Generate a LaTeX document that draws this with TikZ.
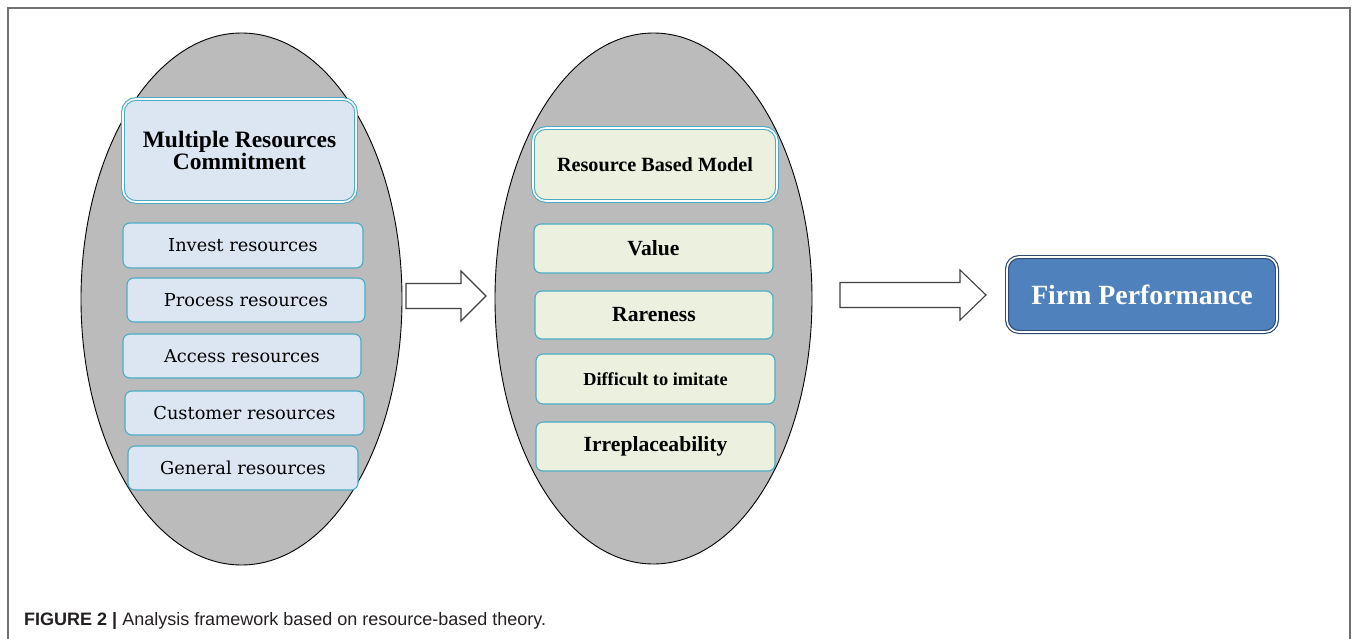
\documentclass[tikz,border=0pt]{standalone}
\usepackage{fontspec}
\setmainfont{Liberation Serif}
\newfontfamily\dvs{DejaVu Serif}
\newfontfamily\capfont{Liberation Sans}
\usetikzlibrary{shapes.geometric}
\definecolor{ellgray}{HTML}{BBBBBB}
\definecolor{tealline}{HTML}{4BACC6}
\definecolor{lblue}{HTML}{DCE6F2}
\definecolor{lgreen}{HTML}{EBF1DE}
\definecolor{fpfill}{HTML}{4F81BD}
\definecolor{fpline}{HTML}{2C4A74}
\definecolor{framegray}{HTML}{707070}
\definecolor{captext}{HTML}{231F20}
\begin{document}
\begin{tikzpicture}[x=1pt,y=-1pt,
  ellstyle/.style={ellipse, draw=black, line width=0.9pt, fill=ellgray, inner sep=0pt},
  itembox/.style={draw=tealline, line width=1.1pt, rounded corners=7pt, inner sep=0pt, align=center},
  leftitem/.style={itembox, fill=lblue, font=\dvs\fontsize{17.8}{20}\selectfont},
  miditem/.style={itembox, fill=lgreen, font=\bfseries\fontsize{21.6}{24}\selectfont},
  titlebox/.style={draw=tealline, line width=1.1pt, double=white, double distance=1.6pt, rounded corners=13pt, inner sep=0pt, align=center},
  blockarrow/.style={draw=black!75, line width=1.1pt, fill=white, line join=miter},
  framestyle/.style={draw=framegray, line width=1.8pt}]
\useasboundingbox (0,0) rectangle (1357,639);
\draw[framestyle] (8,639) -- (8,8) -- (1350,8) -- (1350,639);

% ellipses
\node[ellstyle, minimum width=321pt, minimum height=532pt] (e1) at (241.5,299) {};
\node[ellstyle, minimum width=317pt, minimum height=531pt] (e2) at (653.5,298.5) {};

% left column
\node[titlebox, fill=lblue, minimum width=233pt, minimum height=103pt,
      font=\bfseries\fontsize{23.5}{20}\selectfont] (mrc) at (239.5,150.5)
      {Multiple Resources\\Commitment};
\node[leftitem, minimum width=240pt, minimum height=45pt] (inv) at (243,245.5) {Invest resources};
\node[leftitem, minimum width=238pt, minimum height=44pt] (pro) at (246,300) {Process resources};
\node[leftitem, minimum width=238pt, minimum height=44pt] (acc) at (242,356) {Access resources};
\node[leftitem, minimum width=239pt, minimum height=44pt] (cus) at (244.5,413) {Customer resources};
\node[leftitem, minimum width=230pt, minimum height=44pt] (gen) at (243,468) {General resources};

% middle column
\node[titlebox, fill=lgreen, minimum width=244pt, minimum height=73pt,
      font=\bfseries\fontsize{20.2}{22}\selectfont] (rbm) at (655,164.5) {Resource Based Model};
\node[miditem, minimum width=239pt, minimum height=49pt] (val) at (653.5,248.5) {Value};
\node[miditem, minimum width=238pt, minimum height=48pt] (rar) at (654,315) {Rareness};
\node[miditem, minimum width=239pt, minimum height=50pt, font=\bfseries\fontsize{18.3}{20}\selectfont] (dif) at (655.5,379) {Difficult to imitate};
\node[miditem, minimum width=239pt, minimum height=49pt] (irr) at (655.5,446.5) {Irreplaceability};

% firm performance
\node[draw=fpline, line width=1.2pt, double=white, double distance=1.6pt, fill=fpfill,
      rounded corners=12pt, minimum width=270pt, minimum height=75pt, inner sep=0pt,
      text=white, font=\bfseries\fontsize{27.8}{30}\selectfont] (fp) at (1142,294.5) {Firm Performance};

% block arrows
\coordinate (a1) at (406,296);
\coordinate (a2) at (840,295);
\draw[blockarrow] (a1) ++(0,-12.5) -- ++(55,0) -- ++(0,-12.5) -- ++(25,25) -- ++(-25,25) -- ++(0,-12.5) -- ++(-55,0) -- cycle;
\draw[blockarrow] (a2) ++(0,-12.5) -- ++(120,0) -- ++(0,-12.5) -- ++(26,25) -- ++(-26,25) -- ++(0,-12.5) -- ++(-120,0) -- cycle;

% caption
\node[anchor=west, inner sep=0pt, text=captext, font=\capfont\fontsize{18}{20}\selectfont] (cap) at (24,621)
  {\textbf{FIGURE 2 |} Analysis framework based on resource-based theory.};
\end{tikzpicture}
\end{document}
